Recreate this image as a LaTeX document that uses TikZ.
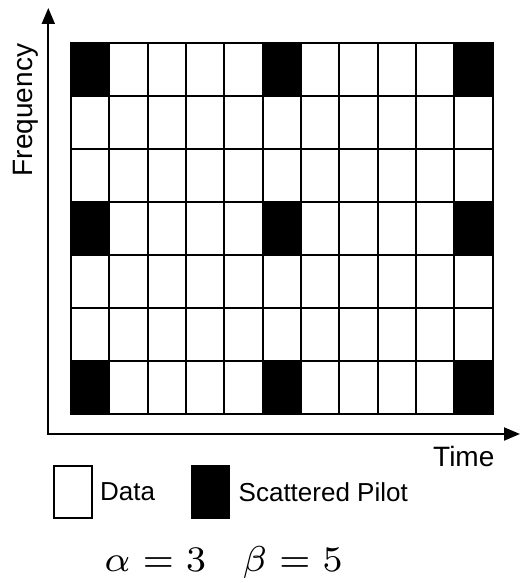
\documentclass[tikz,border=0pt]{standalone}
\usepackage[no-math]{fontspec}
\setmainfont{Liberation Sans}
\usetikzlibrary{arrows.meta, positioning}
\tikzset{
  cell/.style={rectangle, draw=black, fill=white, line width=2pt,
    minimum width=38.32pt, minimum height=53pt, inner sep=0pt, outer sep=0pt},
  pilot/.style={cell, fill=black},
  legbox/.style={rectangle, draw=black, line width=1.5pt,
    minimum width=38pt, minimum height=52pt, inner sep=0pt, outer sep=0pt},
  axis/.style={line width=2pt,
    {Triangle[length=16pt,width=13pt]}-{Triangle[length=16pt,width=13pt]}},
  axlbl/.style={font=\fontsize{28}{34}\selectfont, inner sep=0pt},
  leglbl/.style={font=\fontsize{26}{31}\selectfont, inner sep=0pt}
}
\begin{document}
\begin{tikzpicture}[x=1pt, y=-1pt]
  \useasboundingbox (0,0) rectangle (521,583);

  % resource grid: pilots every 5th symbol and every 3rd carrier
  \foreach \c in {0,...,10}
    \foreach \r in {0,...,6}{
      \pgfmathtruncatemacro\pil{(mod(\c,5)==0 && mod(\r,3)==0) ? 1 : 0}
      \ifnum\pil=1 \def\cs{pilot}\else\def\cs{cell}\fi
      \node[\cs] (c-\c-\r) at ({71+(\c+0.5)*38.32},{43+(\r+0.5)*53}) {};
    }

  % axes
  \coordinate (orig) at (48.3,434);
  \coordinate (ftip) at (48.3,8);
  \coordinate (ttip) at (520,434);
  \draw[axis] (ftip) -- (orig) -- (ttip);
  \node[axlbl, rotate=90] (freq) at (26,110) {Frequency};
  \node[axlbl, anchor=base west] (time) at (433,466.5) {Time};

  % legend
  \node[legbox, fill=white] (dbox) at (73,492) {};
  \node[leglbl, right=8pt of dbox] (dlbl) {Data};
  \node[legbox, fill=black] (pbox) at (210.5,492) {};
  \node[leglbl, right=9pt of pbox] (plbl) {Scattered Pilot};

  \node[anchor=base, inner sep=0pt, scale=5.14, transform shape,
    font=\fontsize{7}{8}\selectfont]
    (param) at (223.5,571.5) {$\alpha = 3 \quad \beta = 5$};
\end{tikzpicture}
\end{document}
